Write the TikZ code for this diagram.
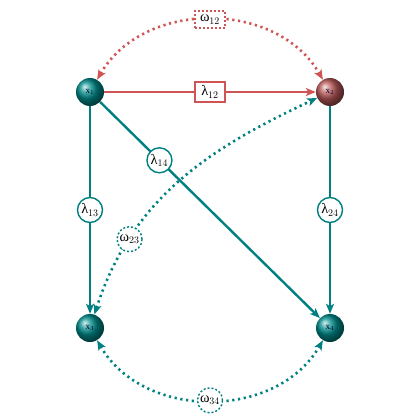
\documentclass[tikz,border=0pt]{standalone}
\usepackage{fontspec}
\setmainfont{Liberation Serif}
\usetikzlibrary{arrows.meta,shapes.geometric}
\definecolor{tealc}{RGB}{0,128,128}
\definecolor{redc}{RGB}{208,84,84}
\definecolor{ballteal}{RGB}{0,140,140}
\definecolor{ballred}{RGB}{185,88,88}
\begin{document}
\begin{tikzpicture}[x=1pt,y=-1pt,
  ball/.style={circle,minimum size=28pt,inner sep=0pt,font=\small,text=black!85!blue},
  solidarr/.style={line width=2.4pt,-{Stealth[length=10pt,width=8pt,inset=2.5pt]}},
  dotarr/.style={line width=2.6pt,dash pattern=on 2.2pt off 3.6pt,{Stealth[length=10pt,width=8pt,inset=2.5pt]}-{Stealth[length=10pt,width=8pt,inset=2.5pt]}},
  lamc/.style={circle,draw=tealc,fill=white,line width=1.4pt,inner sep=1pt,minimum size=25pt,font=\Large,text=black},
  omc/.style={circle,draw=tealc,fill=white,line width=1.4pt,dash pattern=on 2pt off 2pt,inner sep=1pt,minimum size=25pt,font=\Large,text=black},
  lamr/.style={rectangle,draw=redc,fill=white,line width=1.4pt,inner sep=2pt,minimum width=30pt,minimum height=20pt,font=\Large,text=black},
  omr/.style={rectangle,draw=redc,fill=white,line width=1.4pt,dash pattern=on 2pt off 2pt,inner sep=2pt,minimum width=30pt,minimum height=17pt,font=\Large,text=black}]
\useasboundingbox (0,0) rectangle (420,420);
\node[ball,ball color=ballteal] (x1) at (90,92) {x$_1$};
\node[ball,ball color=ballred] (x2) at (330,92) {x$_2$};
\node[ball,ball color=ballteal] (x3) at (90,328) {x$_3$};
\node[ball,ball color=ballteal] (x4) at (330,328) {x$_4$};
\draw[solidarr,redc] (x1) -- node[lamr] (l12) {λ$_{12}$} (x2);
\draw[solidarr,tealc] (x1) -- node[lamc] (l13) {λ$_{13}$} (x3);
\draw[solidarr,tealc] (x2) -- node[lamc] (l24) {λ$_{24}$} (x4);
\draw[solidarr,tealc] (x1) -- node[lamc,pos=0.27] (l14) {λ$_{14}$} (x4);
\draw[dotarr,redc] (x1) to[out=60,in=120,looseness=1.05] node[omr,pos=0.5] (o12) {ω$_{12}$} (x2);
\draw[dotarr,tealc] (x3) to[out=-60,in=-120,looseness=1.05] node[omc,pos=0.5] (o34) {ω$_{34}$} (x4);
\draw[dotarr,tealc] (x3) to[out=72,in=205,looseness=1.0] node[omc,pos=0.25] (o23) {ω$_{23}$} (x2);
\end{tikzpicture}
\end{document}
